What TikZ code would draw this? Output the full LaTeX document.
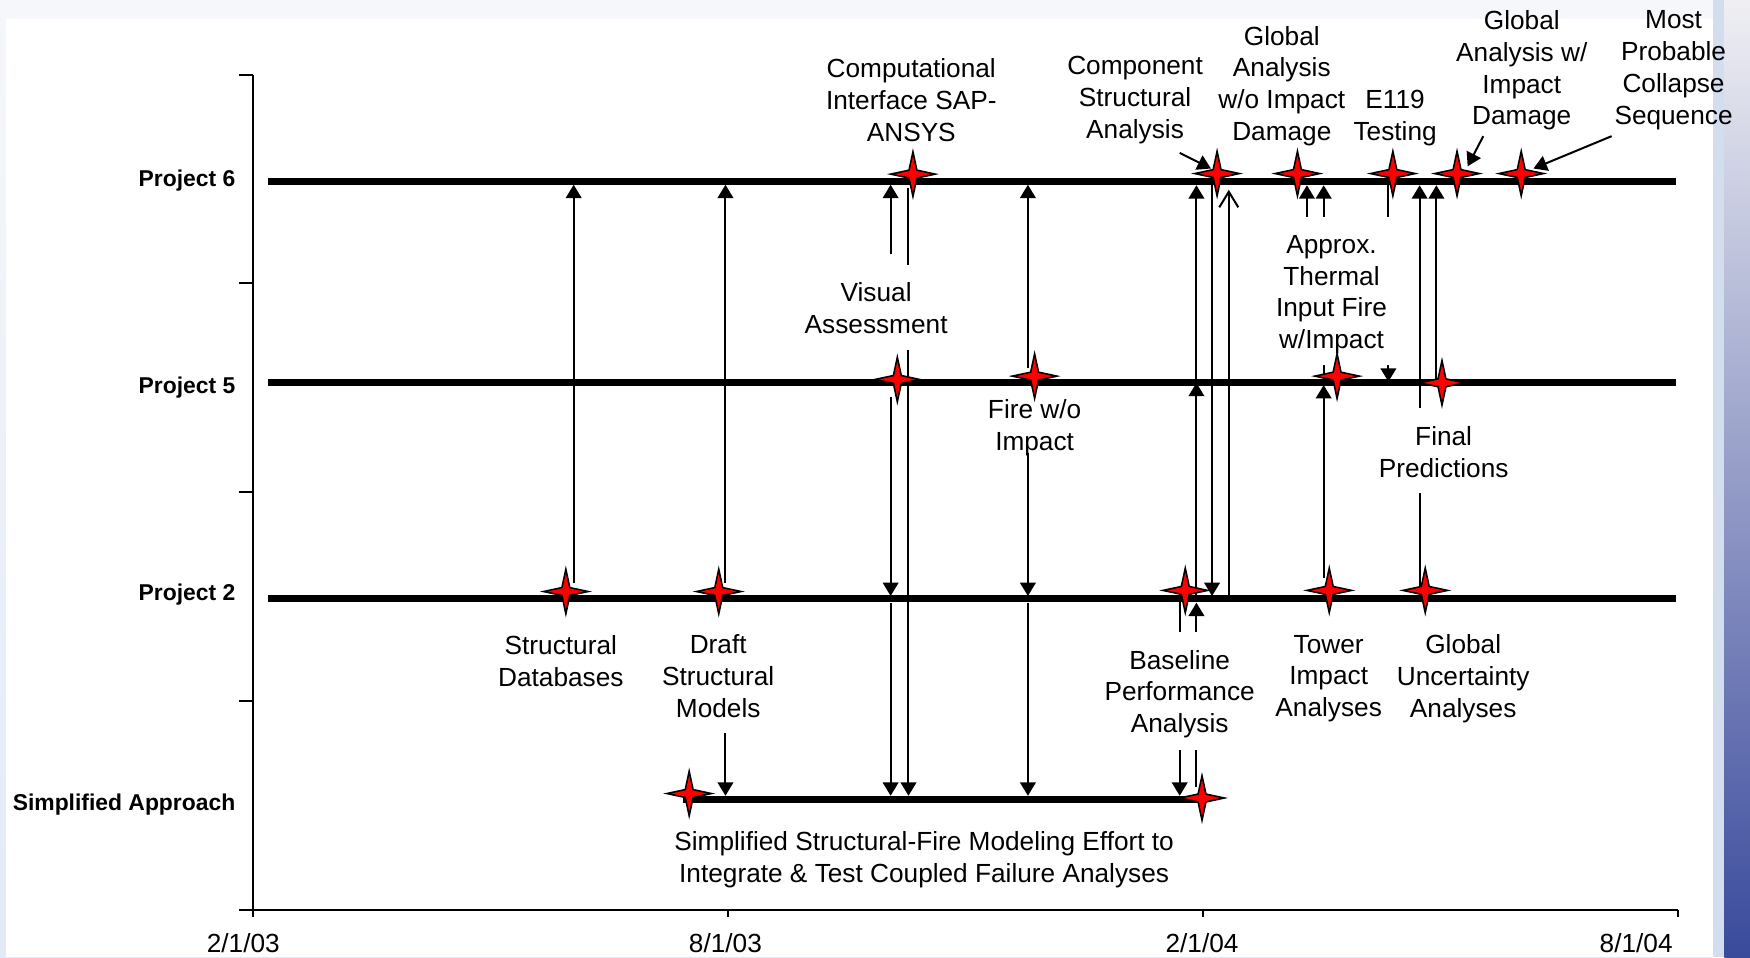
\documentclass[tikz,border=0pt]{standalone}
\usepackage{fontspec}
\setmainfont{Liberation Sans}
\usetikzlibrary{arrows.meta,shapes.geometric}
\definecolor{bgtop}{HTML}{F5F7FA}
\definecolor{bgleft}{HTML}{E2EAF5}
\definecolor{rstrip}{HTML}{D2DEEE}
\definecolor{gtop}{HTML}{EFEFF3}
\definecolor{gmid}{HTML}{B0B0CE}
\definecolor{gbot}{HTML}{3A4A9C}
\definecolor{starred}{HTML}{FF0000}
\newcommand\lblfont{\fontsize{23.5}{28.5}\selectfont}
\newcommand\prjfont{\fontsize{20.5}{24}\selectfont\bfseries}
\tikzset{
  projline/.style={line width=6pt},
  axisline/.style={line width=1.8pt},
  thinline/.style={line width=1.8pt},
  arr/.style={thinline, -{Triangle[width=14pt,length=12pt]}},
  openarr/.style={thinline, -{Straight Barb[width=17pt,length=14pt]}},
  star4/.style={star, star points=4, star point ratio=4, minimum size=40pt,
    inner sep=0pt, draw=black, fill=starred, line width=1.4pt},
  lbl/.style={font=\lblfont, align=center, inner sep=0pt},
  plbl/.style={font=\prjfont, anchor=east, inner sep=0pt},
  dlbl/.style={font=\lblfont, inner sep=0pt},
}
\begin{document}
\begin{tikzpicture}[x=1pt,y=-1pt]
\useasboundingbox (0,0) rectangle (1568,857.5);
% background frame
\shade[top color=bgtop, bottom color=bgleft] (0,0) rectangle (1535,857.5);
\fill[bgtop] (0,0) rectangle (1535,17);
\fill[white] (5,17) rectangle (1535,857.5);
\fill[rstrip] (1535,0) rectangle (1545,857.5);
\shade[top color=gtop, middle color=gmid, bottom color=gbot] (1545,0) rectangle (1568,857.5);

% axes
\coordinate (axtop) at (227,67);
\coordinate (axorig) at (227,815.5);
\coordinate (axleft) at (214,815.5);
\coordinate (axright) at (1503.5,815.5);
\draw[axisline] (axtop) -- (axorig);
\draw[axisline] (axleft) -- (axright);
\foreach \yy in {67,254,441,628} \draw[axisline] (214,\yy) -- (227,\yy);
\foreach \xx in {227,652,1078,1503.5} \draw[axisline] (\xx,815.5) -- (\xx,822);

\node[dlbl] (d1) at (218,845) {2/1/03};
\node[dlbl] (d2) at (650,845) {8/1/03};
\node[dlbl] (d3) at (1077,845) {2/1/04};
\node[dlbl] (d4) at (1466,845) {8/1/04};

% project lines
\coordinate (p6l) at (240,162.5); \coordinate (p6r) at (1502,162.5);
\coordinate (p5l) at (240,343);   \coordinate (p5r) at (1502,343);
\coordinate (p2l) at (240,536);   \coordinate (p2r) at (1502,536);
\coordinate (psl) at (612,716.5); \coordinate (psr) at (1075,716.5);
\draw[projline] (p6l) -- (p6r);
\draw[projline] (p5l) -- (p5r);
\draw[projline] (p2l) -- (p2r);
\draw[projline] (psl) -- (psr);

\node[plbl] (lp6) at (211,162) {Project 6};
\node[plbl] (lp5) at (211,347) {Project 5};
\node[plbl] (lp2) at (211,532.5) {Project 2};
\node[plbl] (lps) at (211,720.5) {Simplified Approach};

% connector end points
\coordinate (sdb1) at (514,522);   \coordinate (sdb2) at (514,165.5);
\coordinate (dr1) at (650,522);    \coordinate (dr2) at (650,165.5);
\coordinate (dr3) at (650,657);    \coordinate (dr4) at (650,713);
\coordinate (va1) at (798,228);    \coordinate (va2) at (798,165.5);
\coordinate (ci1) at (814,168);    \coordinate (ci2) at (814,237);
\coordinate (va3) at (798,355.5);  \coordinate (va4) at (798,534);
\coordinate (va5) at (798,540);    \coordinate (va6) at (798,713);
\coordinate (ci3) at (814,313.5);  \coordinate (ci4) at (814,713);
\coordinate (fw1) at (921,330);    \coordinate (fw2) at (921,165.5);
\coordinate (fw3) at (921,406);    \coordinate (fw4) at (921,534);
\coordinate (fw5) at (921,540);    \coordinate (fw6) at (921,713);
\coordinate (bp1) at (1057,530);   \coordinate (bp2) at (1057,566);
\coordinate (bp3) at (1057,672);   \coordinate (bp4) at (1057,713);
\coordinate (bp5) at (1072,705);   \coordinate (bp6) at (1072,672);
\coordinate (bp7) at (1072,566);   \coordinate (bp8) at (1072,540);
\coordinate (bp9) at (1072,536);   \coordinate (bp10) at (1072,343);
\coordinate (bp11) at (1072,343);  \coordinate (bp12) at (1072,166);
\coordinate (cs1) at (1086,158);   \coordinate (cs2) at (1086,534);
\coordinate (ga1) at (1101,536);   \coordinate (ga2) at (1101,170);
\coordinate (cp1) at (1057,137);   \coordinate (cp2) at (1085,151);
\coordinate (ap1) at (1171,194);   \coordinate (ap2) at (1171,166);
\coordinate (ap3) at (1186,194);   \coordinate (ap4) at (1186,166);
\coordinate (et1) at (1244,158);   \coordinate (et2) at (1244,194);
\coordinate (et3) at (1244,327);   \coordinate (et4) at (1244,342);
\coordinate (ti1) at (1186,518);   \coordinate (ti2) at (1186,345);
\coordinate (ti3) at (1186,327);   \coordinate (ti4) at (1186,343);
\coordinate (fp1) at (1272,366);   \coordinate (fp2) at (1272,166);
\coordinate (fp3) at (1287,343);   \coordinate (fp4) at (1287,166);
\coordinate (fp5) at (1272,442);   \coordinate (fp6) at (1272,525);
\coordinate (gi1) at (1329,122);   \coordinate (gi2) at (1315,149);
\coordinate (mp1) at (1444,122);   \coordinate (mp2) at (1374,151);

% connectors
\draw[arr] (sdb1) -- (sdb2);
\draw[arr] (dr1) -- (dr2);
\draw[arr] (dr3) -- (dr4);
\draw[arr] (va1) -- (va2);
\draw[thinline] (ci1) -- (ci2);
\draw[arr] (va3) -- (va4);
\draw[arr] (va5) -- (va6);
\draw[arr] (ci3) -- (ci4);
\draw[arr] (fw1) -- (fw2);
\draw[arr] (fw3) -- (fw4);
\draw[arr] (fw5) -- (fw6);
\draw[thinline] (bp1) -- (bp2);
\draw[arr] (bp3) -- (bp4);
\draw[thinline] (bp5) -- (bp6);
\draw[arr] (bp7) -- (bp8);
\draw[arr] (bp9) -- (bp10);
\draw[arr] (bp11) -- (bp12);
\draw[arr] (cs1) -- (cs2);
\draw[openarr] (ga1) -- (ga2);
\draw[arr] (cp1) -- (cp2);
\draw[arr] (ap1) -- (ap2);
\draw[arr] (ap3) -- (ap4);
\draw[thinline] (et1) -- (et2);
\draw[arr] (et3) -- (et4);
\draw[arr] (ti1) -- (ti2);
\draw[thinline] (ti3) -- (ti4);
\draw[arr] (fp1) -- (fp2);
\draw[arr] (fp3) -- (fp4);
\draw[thinline] (fp5) -- (fp6);
\draw[arr] (gi1) -- (gi2);
\draw[arr] (mp1) -- (mp2);

% stars
\node[star4] (s6a) at (818,156) {};
\node[star4] (s6b) at (1090.5,155.5) {};
\node[star4] (s6c) at (1162.5,155.5) {};
\node[star4] (s6d) at (1248,155.5) {};
\node[star4] (s6e) at (1305.5,155.5) {};
\node[star4] (s6f) at (1363,155.5) {};
\node[star4] (s5a) at (804,340) {};
\node[star4] (s5b) at (927,337) {};
\node[star4] (s5c) at (1198,337) {};
\node[star4] (s5d) at (1292,343) {};
\node[star4] (s2a) at (507,530) {};
\node[star4] (s2b) at (644,530) {};
\node[star4] (s2c) at (1062,529) {};
\node[star4] (s2d) at (1191,529) {};
\node[star4] (s2e) at (1277,529) {};
\node[star4] (ssa) at (617.5,711) {};
\node[star4] (ssb) at (1077,715) {};

% labels
\node[lbl] (tcomp) at (816.5,89.5) {Computational\\Interface SAP-\\ANSYS};
\node[lbl] (tcompo) at (1017,89.5) {Component\\Structural\\Analysis};
\node[lbl] (tgwo) at (1148.5,77) {Global\\Analysis\\w/o Impact\\Damage};
\node[lbl] (te119) at (1250,105.5) {E119\\Testing};
\node[lbl] (tgw) at (1363.5,63) {Global\\Analysis w/\\Impact\\Damage};
\node[lbl] (tmost) at (1499.5,63) {Most\\Probable\\Collapse\\Sequence};
\node[lbl] (tvis) at (785,276) {Visual\\Assessment};
\node[lbl] (tapprox) at (1193,264) {Approx.\\Thermal\\Input Fire\\w/Impact};
\node[lbl] (tfire) at (927,383.5) {Fire w/o\\Impact};
\node[lbl] (tfinal) at (1293.5,405) {Final\\Predictions};
\node[lbl] (tsdb) at (502.5,592) {Structural\\Databases};
\node[lbl] (tdraft) at (643.5,606) {Draft\\Structural\\Models};
\node[lbl] (tbase) at (1057,622) {Baseline\\Performance\\Analysis};
\node[lbl] (ttower) at (1190.5,608) {Tower\\Impact\\Analyses};
\node[lbl] (tgu) at (1311,608) {Global\\Uncertainty\\Analyses};
\node[lbl] (tsimp) at (828,770.5) {Simplified Structural-Fire Modeling Effort to\\Integrate \& Test Coupled Failure Analyses};
\end{tikzpicture}
\end{document}
